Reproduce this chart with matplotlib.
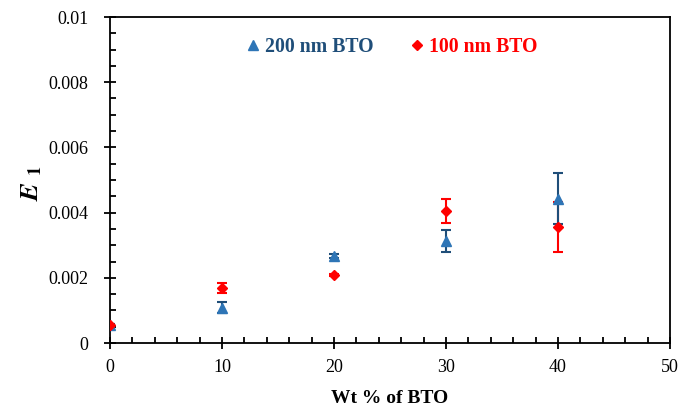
"""E1 vs BTO loading for 200 nm and 100 nm BTO fillers."""
import matplotlib
import matplotlib.pyplot as plt
from matplotlib.ticker import MultipleLocator, FuncFormatter

matplotlib.use("Agg")

plt.rcParams["font.family"] = ["Liberation Serif", "DejaVu Serif"]
plt.rcParams["mathtext.fontset"] = "stix"

# ── data ─────────────────────────────────────────────────────────────────────
wt_pct = [0, 10, 20, 30, 40]

e1_200nm = [0.00055, 0.00108, 0.00267, 0.00313, 0.00442]
err_200nm = [0.00004, 0.00017, 0.00005, 0.00035, 0.00078]

e1_100nm = [0.00055, 0.00168, 0.00208, 0.00405, 0.00357]
err_100nm = [0.00004, 0.00016, 0.00004, 0.00036, 0.00077]

BLUE = "#2E75B6"
BLUE_DARK = "#1F4E79"
RED = "#FF0000"

fig = plt.figure(figsize=(6.81, 4.11), dpi=100)
ax = fig.add_axes([110 / 681, 1 - 343 / 411, 560 / 681, 326 / 411])

# error bars first, markers on top
ax.errorbar(wt_pct, e1_100nm, yerr=err_100nm, fmt="none", ecolor=RED,
            elinewidth=1.5, capsize=3.5, capthick=1.5, zorder=2)
ax.errorbar(wt_pct, e1_200nm, yerr=err_200nm, fmt="none", ecolor=BLUE_DARK,
            elinewidth=1.5, capsize=3.5, capthick=1.5, zorder=3)
ax.plot(wt_pct, e1_200nm, ls="none", marker="^", ms=7, color=BLUE,
        label="200 nm BTO", zorder=4)
ax.plot(wt_pct, e1_100nm, ls="none", marker="D", ms=5.5, color=RED,
        label="100 nm BTO", zorder=5)

ax.set_xlim(0, 50)
ax.set_ylim(0, 0.01)
ax.xaxis.set_major_locator(MultipleLocator(10))
ax.xaxis.set_minor_locator(MultipleLocator(2))
ax.yaxis.set_major_locator(MultipleLocator(0.002))
ax.yaxis.set_minor_locator(MultipleLocator(0.0005))
ax.yaxis.set_major_formatter(
    FuncFormatter(lambda v, _: "0" if abs(v) < 1e-12 else f"{v:.3f}".rstrip("0").rstrip("."))
)

ax.tick_params(which="major", direction="inout", length=9, width=1.3,
               labelsize=13, colors="black")
ax.tick_params(axis="y", which="major", pad=11)
ax.tick_params(axis="x", which="major", pad=7)
ax.tick_params(which="minor", direction="in", length=4, width=1.3)
for side in ax.spines.values():
    side.set_linewidth(1.3)

ax.set_xlabel("Wt % of BTO", fontsize=14, fontweight="bold", labelpad=10)
ax.set_ylabel(r"$\mathbfit{E}\ _{\mathbf{1}}$", fontsize=19)
ax.yaxis.set_label_coords(-0.118, 0.49)

leg = ax.legend(loc="center", bbox_to_anchor=(0.500, 0.908), ncol=2,
                frameon=False, handletextpad=0.1,
                columnspacing=1.7, handlelength=1.0,
                prop={"weight": "bold", "size": 14.2})
for txt, col in zip(leg.get_texts(), [BLUE_DARK, RED]):
    txt.set_color(col)

fig.savefig("out.png", dpi=100)
